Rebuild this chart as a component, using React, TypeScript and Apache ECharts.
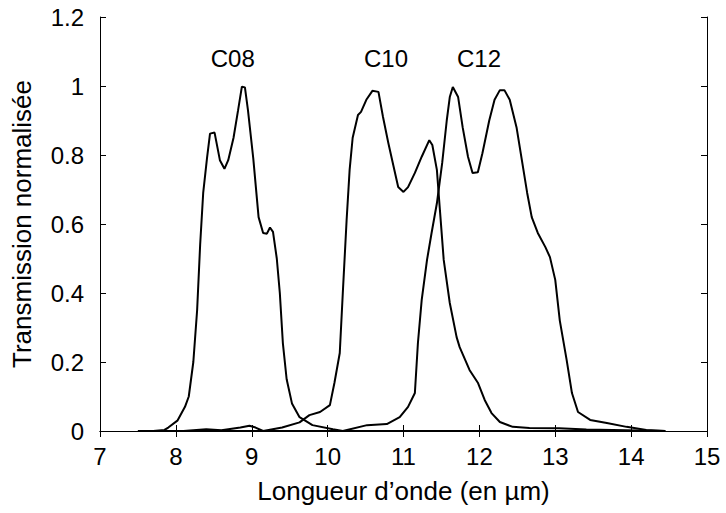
import React, { useEffect, useRef } from "react";
import * as echarts from "echarts";

const xTicks = [7, 8, 9, 10, 11, 12, 13, 14, 15];
const yTicks = [0, 0.2, 0.4, 0.6, 0.8, 1, 1.2];

const c08: [number, number][] = [
  [7.5, 0], [7.7, 0], [7.85, 0.003], [7.9, 0.01], [8.02, 0.03], [8.12, 0.07], [8.17, 0.1],
  [8.23, 0.2], [8.28, 0.35], [8.32, 0.54], [8.36, 0.69], [8.41, 0.79], [8.45, 0.862],
  [8.51, 0.865], [8.58, 0.785], [8.64, 0.76], [8.69, 0.785], [8.76, 0.85], [8.82, 0.93],
  [8.87, 0.998], [8.91, 0.996], [8.95, 0.93], [9.02, 0.79], [9.09, 0.62], [9.15, 0.574],
  [9.2, 0.572], [9.24, 0.59], [9.28, 0.577], [9.33, 0.5], [9.37, 0.4], [9.41, 0.255],
  [9.46, 0.15], [9.53, 0.08], [9.63, 0.04], [9.8, 0.017], [10.07, 0.005], [10.2, 0], [14.45, 0],
];

const c10: [number, number][] = [
  [7.5, 0], [8.1, 0], [8.4, 0.005], [8.6, 0.002], [8.85, 0.01], [8.97, 0.015], [9.05, 0.01],
  [9.15, 0], [9.4, 0.01], [9.63, 0.025], [9.76, 0.046], [9.9, 0.055], [10.03, 0.075],
  [10.09, 0.14], [10.16, 0.226], [10.2, 0.4], [10.25, 0.61], [10.29, 0.757], [10.33, 0.85],
  [10.4, 0.916], [10.44, 0.925], [10.51, 0.96], [10.59, 0.986], [10.67, 0.983], [10.73, 0.91],
  [10.8, 0.835], [10.87, 0.766], [10.93, 0.707], [11.0, 0.693], [11.06, 0.707], [11.15, 0.748],
  [11.24, 0.795], [11.34, 0.843], [11.38, 0.829], [11.44, 0.757], [11.48, 0.64], [11.53, 0.496],
  [11.61, 0.371], [11.7, 0.272], [11.74, 0.243], [11.87, 0.177], [11.98, 0.14], [12.07, 0.09],
  [12.16, 0.052], [12.27, 0.026], [12.44, 0.012], [12.66, 0.009], [13.05, 0.008], [13.41, 0.004],
  [14.45, 0],
];

const c12: [number, number][] = [
  [7.5, 0], [10.2, 0], [10.52, 0.017], [10.78, 0.02], [10.95, 0.04], [11.06, 0.07], [11.15, 0.11],
  [11.19, 0.255], [11.24, 0.38], [11.31, 0.496], [11.37, 0.574], [11.44, 0.66], [11.51, 0.777],
  [11.57, 0.9], [11.61, 0.968], [11.65, 0.997], [11.72, 0.968], [11.78, 0.88], [11.85, 0.795],
  [11.91, 0.748], [11.98, 0.75], [12.04, 0.805], [12.13, 0.9], [12.2, 0.96], [12.27, 0.988],
  [12.33, 0.988], [12.4, 0.96], [12.49, 0.88], [12.56, 0.785], [12.63, 0.69], [12.69, 0.62],
  [12.77, 0.574], [12.87, 0.533], [12.93, 0.504], [13.0, 0.438], [13.06, 0.32], [13.15, 0.206],
  [13.22, 0.11], [13.3, 0.055], [13.46, 0.032], [13.68, 0.023], [13.94, 0.012], [14.2, 0.003],
  [14.45, 0],
];

const seriesNames = ["C08", "C10", "C12"];
const labelPositions: [number, number][] = [[8.75, 1.081], [10.77, 1.081], [11.995, 1.081]];

const FONT = "'Liberation Sans', Arial, Helvetica, sans-serif";
const FS = 24;
const NAME_FS = 26;

export default function App() {
  const ref = useRef<HTMLDivElement>(null);
  useEffect(() => {
    if (!ref.current) return;
    const chart = echarts.init(ref.current, undefined, { renderer: "svg" });
    const axisCommon = {
      axisLine: { show: true, lineStyle: { color: "#000", width: 1 } },
      axisTick: { show: true, inside: true, length: 6, lineStyle: { color: "#000", width: 1 } },
      splitLine: { show: false },
    };
    const datasets = [c08, c10, c12];
    chart.setOption({
      animation: false,
      backgroundColor: "#fff",
      textStyle: { fontFamily: FONT },
      grid: { left: 100, right: 19, top: 17, bottom: 82, containLabel: false },
      xAxis: [
        {
          type: "value", min: xTicks[0], max: xTicks[xTicks.length - 1], interval: 1,
          position: "bottom",
          ...axisCommon,
          axisLabel: { color: "#000", fontSize: FS, fontFamily: FONT, margin: 13 },
          name: "Longueur d\u2019onde (en \u00b5m)",
          nameLocation: "middle",
          nameGap: 47,
          nameTextStyle: { color: "#000", fontSize: NAME_FS, fontFamily: FONT },
        },
        {
          type: "value", min: xTicks[0], max: xTicks[xTicks.length - 1], interval: 1,
          position: "top",
          ...axisCommon,
          axisLabel: { show: false },
        },
      ],
      yAxis: [
        {
          type: "value", min: yTicks[0], max: yTicks[yTicks.length - 1], interval: 0.2,
          position: "left",
          ...axisCommon,
          axisLabel: { color: "#000", fontSize: FS, fontFamily: FONT, margin: 16 },
          name: "Transmission normalis\u00e9e",
          nameLocation: "middle",
          nameGap: 65,
          nameTextStyle: { color: "#000", fontSize: NAME_FS, fontFamily: FONT },
        },
        {
          type: "value", min: yTicks[0], max: yTicks[yTicks.length - 1], interval: 0.2,
          position: "right",
          ...axisCommon,
          axisLabel: { show: false },
        },
      ],
      series: datasets.map((d, i) => ({
        name: seriesNames[i],
        type: "line",
        data: d,
        xAxisIndex: 0,
        yAxisIndex: 0,
        showSymbol: false,
        symbol: "none",
        smooth: false,
        lineStyle: { color: "#000", width: 2 },
        markPoint: {
          symbol: "circle",
          symbolSize: 0,
          data: [{ coord: labelPositions[i], value: seriesNames[i] }],
          label: {
            show: true,
            position: "inside",
            formatter: seriesNames[i],
            color: "#000",
            fontSize: FS,
            fontFamily: FONT,
          },
        },
      })),
    });
    return () => chart.dispose();
  }, []);
  return <div ref={ref} style={{ width: 726, height: 513, position: "absolute", left: 0, top: 0 }} />;
}
